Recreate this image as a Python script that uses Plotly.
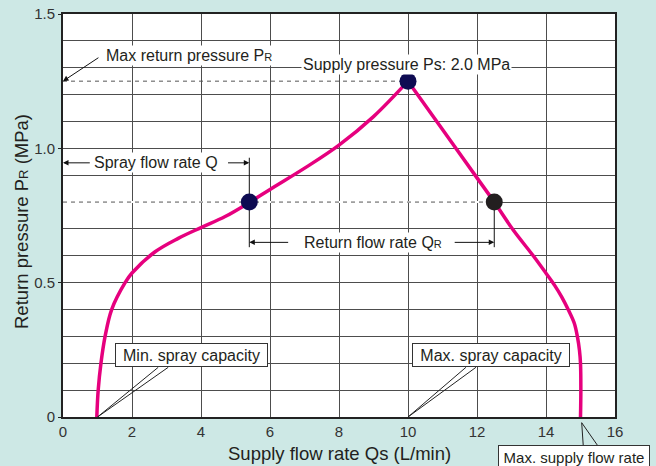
import plotly.graph_objects as go

# ---- data ----
left_x = [0.98, 1.02, 1.10, 1.22, 1.41, 1.80, 2.0, 2.67, 3.34, 4.0, 4.7, 5.42, 6.0, 7.05, 8.0, 9.0, 10.0]
left_y = [0.0, 0.1, 0.2, 0.3, 0.4, 0.5, 0.536, 0.615, 0.665, 0.705, 0.746, 0.80, 0.847, 0.93, 1.012, 1.118, 1.25]
right_x = [10.0, 11.0, 12.0, 12.5, 13.05, 13.63, 14.0, 14.25, 14.45, 14.65, 14.82, 14.91, 14.97, 15.0, 15.01, 15.0]
right_y = [1.25, 1.07, 0.89, 0.80, 0.696, 0.60, 0.535, 0.49, 0.448, 0.398, 0.349, 0.299, 0.248, 0.2, 0.1, 0.0]

point_x = [5.4, 10.0, 12.5]
point_y = [0.8, 1.25, 0.8]
point_colors = ["#0e0b52", "#0e0b52", "#231f20"]

x_tickvals = [0, 2, 4, 6, 8, 10, 12, 14, 16]
y_tickvals = [0, 0.5, 1.0, 1.5]
y_ticktext = ["0", "0.5", "1.0", "1.5"]

spray_q = 5.4
return_q = 12.5
max_return_p = 1.25
operating_p = 0.8
min_capacity = 1.0
max_capacity = 10.0
max_supply = 15.0

FONT = "Arial, Liberation Sans, sans-serif"
TXT = "#231f20"
MAGENTA = "#e6007e"

fig = go.Figure()

for xs, ys in [(left_x, left_y), (right_x, right_y)]:
    fig.add_trace(go.Scatter(x=xs, y=ys, mode="lines",
                             line=dict(color=MAGENTA, width=3.5, shape="spline", smoothing=1.0),
                             hoverinfo="skip", showlegend=False))

fig.add_trace(go.Scatter(x=point_x, y=point_y, mode="markers",
                         marker=dict(size=17, color=point_colors, line=dict(width=0)),
                         showlegend=False, hoverinfo="skip"))

shapes = []
# dashed reference lines
shapes.append(dict(type="line", xref="x", yref="y", x0=0, x1=return_q, y0=operating_p, y1=operating_p,
                   line=dict(color="white", width=2), layer="between"))
shapes.append(dict(type="line", xref="x", yref="y", x0=0, x1=return_q, y0=operating_p, y1=operating_p,
                   line=dict(color="#555555", width=1, dash="4px,4px"), layer="between"))
shapes.append(dict(type="line", xref="x", yref="y", x0=0, x1=max_capacity, y0=max_return_p, y1=max_return_p,
                   line=dict(color="#555555", width=1, dash="4px,4px"), layer="between"))
# vertical connectors
shapes.append(dict(type="line", xref="x", yref="y", x0=spray_q, x1=spray_q, y0=0.965, y1=0.632,
                   line=dict(color="#111111", width=1), layer="between"))
shapes.append(dict(type="line", xref="x", yref="y", x0=return_q, x1=return_q, y0=operating_p, y1=0.632,
                   line=dict(color="#111111", width=1), layer="between"))
# callout tails (inside plot)
for (ax0, ax1, tip) in [(2.76, 3.05, min_capacity), (11.68, 11.97, max_capacity)]:
    for a in (ax0, ax1):
        shapes.append(dict(type="line", xref="x", yref="y", x0=a, x1=tip, y0=0.185, y1=0.0,
                           line=dict(color="#222222", width=1), layer="above"))

# pixel helpers for items that sit outside the plotting area
def px2paper_x(px):
    return (px - 63) / 552.0
def py2paper_y(py):
    return (417 - py) / 403.0

for a in (583.3, 598.3):
    shapes.append(dict(type="line", xref="paper", yref="paper",
                       x0=px2paper_x(a), y0=py2paper_y(446.5),
                       x1=px2paper_x(581.7), y1=py2paper_y(422.7),
                       line=dict(color="#222222", width=1)))

ann = []
def arrow(hx, hy, tx, ty):
    ann.append(dict(x=hx, y=hy, ax=tx, ay=ty, xref="x", yref="y", axref="x", ayref="y",
                    text="", showarrow=True, arrowhead=2, arrowsize=1.1, arrowwidth=1,
                    arrowcolor="#111111", standoff=0, startstandoff=0))

arrow(0.0, max_return_p, 1.07, 1.341)
arrow(0.0, 0.946, 0.82, 0.946)
arrow(spray_q, 0.946, 4.74, 0.946)
arrow(spray_q, 0.65, 6.57, 0.65)
arrow(return_q, 0.65, 11.31, 0.65)

def label(x, y, text, xanchor="center", size=16, **kw):
    d = dict(x=x, y=y, xref="x", yref="y", text=text, showarrow=False, xanchor=xanchor,
             yanchor="middle", bgcolor="white", borderpad=1,
             font=dict(family=FONT, size=size, color=TXT))
    d.update(kw)
    ann.append(d)

SUBR = '<span style="font-size:11px">R</span>'
label(1.19, 1.346, "Max return pressure P" + SUBR, xanchor="left")
label(9.95, 1.312, "Supply pressure Ps: 2.0 MPa")
label(2.69, 0.946, "Spray flow rate Q")
label(8.98, 0.650, "Return flow rate Q" + SUBR)
label(3.72, 0.229, "Min. spray capacity", bordercolor="#333333", borderwidth=1, width=149, height=20)
label(12.4, 0.229, "Max. spray capacity", bordercolor="#333333", borderwidth=1, width=154, height=20)
ann.append(dict(x=14.82, y=py2paper_y(457.5), xref="x", yref="paper", text="Max. supply flow rate",
                showarrow=False, xanchor="center", yanchor="middle", bgcolor="white",
                bordercolor="#333333", borderwidth=1, borderpad=1, width=148, height=21,
                font=dict(family=FONT, size=15, color=TXT)))

# axis titles
ann.append(dict(x=0.5, y=py2paper_y(453), xref="paper", yref="paper",
                text="Supply flow rate Qs (L/min)", showarrow=False, xanchor="center", yanchor="middle",
                font=dict(family=FONT, size=18.5, color=TXT)))
ann.append(dict(x=px2paper_x(21), y=py2paper_y(222), xref="paper", yref="paper",
                text='Return pressure P<span style="font-size:13px">R</span> (MPa)', textangle=-90,
                showarrow=False, xanchor="center", yanchor="middle",
                font=dict(family=FONT, size=18.5, color=TXT)))

fig.update_layout(
    width=656, height=466,
    margin=dict(l=63, r=41, t=14, b=49, autoexpand=False),
    paper_bgcolor="#cde8e5", plot_bgcolor="white",
    shapes=shapes, annotations=ann, showlegend=False,
    font=dict(family=FONT, color=TXT),
)
fig.update_xaxes(range=[0, 16], tickvals=x_tickvals, showgrid=True, gridcolor="#4d4d4d", gridwidth=1,
                 zeroline=False, showline=True, linecolor="#222222", linewidth=2, mirror=True,
                 ticks="", tickfont=dict(family=FONT, size=15, color="#333333"), fixedrange=True,
                 automargin=False)
fig.update_yaxes(range=[0, 1.5], tickvals=y_tickvals, ticktext=y_ticktext, showgrid=True,
                 gridcolor="#4d4d4d", gridwidth=1,
                 minor=dict(dtick=0.1, showgrid=True, gridcolor="#4d4d4d", gridwidth=1, ticks=""),
                 zeroline=False, showline=True, linecolor="#222222", linewidth=2, mirror=True,
                 ticks="outside", ticklen=3, tickcolor="#222222",
                 tickfont=dict(family=FONT, size=15, color="#333333"), fixedrange=True,
                 automargin=False)

fig.write_html("out.html", config={"displayModeBar": False},
               post_script="document.body.style.margin='0px';")
